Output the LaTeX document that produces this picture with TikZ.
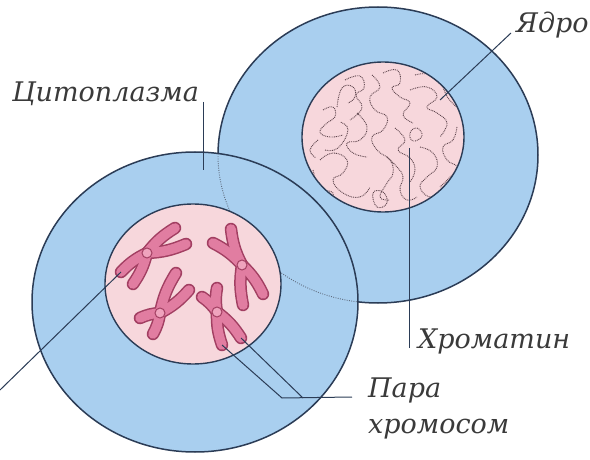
\documentclass[tikz,border=0pt]{standalone}
\usepackage{fontspec}
\setmainfont{DejaVu Serif}
\usetikzlibrary{positioning, calc}
\definecolor{CytoBlue}    {HTML}{A9CFEF}
\definecolor{NucPink}     {HTML}{F7D7DC}
\definecolor{CellEdge}    {HTML}{2B3C56}
\definecolor{ChromoFill}  {HTML}{E17DA1}
\definecolor{ChromoEdge}  {HTML}{A23F62}
\definecolor{CentroFill}  {HTML}{EFA3BD}
\definecolor{ChromatinDot}{HTML}{5E454D}
\definecolor{LabelGray}   {HTML}{3A3A3A}
\tikzset{
  % cell parts
  cell/.style   ={fill=CytoBlue, draw=CellEdge, line width=1.5pt},
  nucleus/.style={fill=NucPink,  draw=CellEdge, line width=1.4pt},
  hidden/.style ={draw=CellEdge!75, line width=0.9pt, dash pattern=on 0.9pt off 1.4pt},
  chromatin/.style={draw=ChromatinDot, line width=0.9pt, dash pattern=on 0.9pt off 0.9pt},
  % chromosome arms: dark rod first, light rod on top
  armedge/.style={draw=ChromoEdge, line width=12.5pt, line cap=round},
  armfill/.style={draw=ChromoFill, line width=9.5pt,  line cap=round},
  centro/.style ={fill=CentroFill, draw=ChromoEdge, line width=1pt},
  % labels and their lines
  leader/.style ={draw=CellEdge, line width=1pt},
  lbl/.style    ={font=\fontsize{27}{36}\selectfont\itshape, text=LabelGray,
                  inner sep=0pt, anchor=base west},
}

\begin{document}
\begin{tikzpicture}[x=1pt, y=-1pt]

\fill[white] (0,0) rectangle (590,460);
\useasboundingbox (0,0) rectangle (590,460);

% cell with resting nucleus (back)
\path[cell]    (378,155) ellipse [x radius=160pt, y radius=148pt];
\path[nucleus] (383,137) ellipse [x radius=81pt,  y radius=75pt];

% chromatin threads
\begin{scope}
  \clip (383,137) ellipse [x radius=80pt, y radius=74pt];
  \draw[chromatin] plot[smooth, tension=0.8] coordinates {(337,107) (342,88) (353,87) (355,97) (348,103)};
  \draw[chromatin] plot[smooth, tension=0.8] coordinates {(323,110) (333,107) (335,117) (327,123) (320,132) (330,137) (343,135)};
  \draw[chromatin] plot[smooth, tension=0.8] coordinates {(372,75) (380,87) (370,97) (375,110) (387,117) (383,130) (372,137) (377,150) (390,160) (393,173) (387,183) (380,197) (390,200)};
  \draw[chromatin] plot[smooth, tension=0.8] coordinates {(383,73) (397,70) (400,83) (392,88) (400,97) (410,103) (403,115) (413,123)};
  \draw[chromatin] plot[smooth, tension=0.8] coordinates {(410,90) (427,87) (437,97) (427,107) (437,113) (447,123) (440,137)};
  \draw[chromatin] plot[smooth, tension=0.8] coordinates {(457,127) (453,140) (443,147) (447,160) (457,167) (450,177) (440,187)};
  \draw[chromatin] plot[smooth, tension=0.8] coordinates {(320,160) (333,153) (347,160) (343,173) (333,180) (343,193) (360,197) (370,187)};
  \draw[chromatin] plot[smooth, tension=0.8] coordinates {(357,113) (367,127) (360,140) (347,143) (353,153) (367,157)};
  \draw[chromatin] plot[smooth, tension=0.8] coordinates {(387,157) (397,167) (403,177) (400,190) (407,200) (417,197)};
  \draw[chromatin] plot[smooth, tension=0.8] coordinates {(420,147) (433,153) (437,167) (427,177) (420,187) (430,197) (440,190)};
  \draw[chromatin] plot[smooth, tension=0.8] coordinates {(313,170) (320,187) (333,193) (330,203)};
  \draw[chromatin] plot[smooth cycle, tension=0.8] coordinates {(410,133) (417,128) (422,136) (413,141)};
  \draw[chromatin] plot[smooth cycle, tension=0.8] coordinates {(373,193) (383,192) (387,203) (377,207)};
  \draw[chromatin] plot[smooth, tension=0.8] coordinates {(318,140) (310,150) (316,158)};
  \draw[chromatin] plot[smooth, tension=0.8] coordinates {(345,80) (360,76) (364,88) (356,95) (362,108) (350,120)};
  \draw[chromatin] plot[smooth, tension=0.8] coordinates {(415,75) (430,74) (440,82) (448,98) (458,108)};
  \draw[chromatin] plot[smooth, tension=0.8] coordinates {(395,128) (405,140) (398,150) (410,158) (415,170) (410,182)};
  \draw[chromatin] plot[smooth, tension=0.8] coordinates {(325,150) (338,148) (348,130) (340,122)};
\end{scope}

% dividing cell (front)
\path[cell] (195,302) ellipse [x radius=163pt, y radius=150pt];
\begin{scope}
  \clip (195,302) ellipse [x radius=162pt, y radius=149pt];
  \path[hidden] (378,155) ellipse [x radius=160pt, y radius=148pt];
\end{scope}
\path[nucleus] (193,284) ellipse [x radius=88pt, y radius=80pt];

% chromosomes: centromere c<n>, arm tips c<n>a..d
\coordinate (c1)  at (147,253);
\coordinate (c1a) at (175,228);
\coordinate (c1b) at (186,244);
\coordinate (c1c) at (121,272);
\coordinate (c1d) at (133,284);
\coordinate (c2)  at (242,265);
\coordinate (c2a) at (231,229);
\coordinate (c2b) at (213,243);
\coordinate (c2c) at (243,305);
\coordinate (c2d) at (263,294);
\coordinate (c3)  at (160,313);
\coordinate (c3a) at (176,273);
\coordinate (c3b) at (189,290);
\coordinate (c3c) at (140,318);
\coordinate (c3d) at (153,334);
\coordinate (c4)  at (217,312);
\coordinate (c4a) at (217,288);
\coordinate (c4b) at (202,297);
\coordinate (c4c) at (222,345);
\coordinate (c4d) at (241,338);

\foreach \n in {1,...,4}
  \foreach \arm/\ang in {a/10,b/-10,c/-10,d/10}
    \draw[armedge] (c\n) to[bend left=\ang] (c\n\arm);
\foreach \n in {1,...,4}
  \foreach \arm/\ang in {a/10,b/-10,c/-10,d/10}
    \draw[armfill] (c\n) to[bend left=\ang] (c\n\arm);
\foreach \n in {1,...,4}
  \draw[centro] (c\n) circle [radius=5pt];

% labels
\node[lbl] (cyto)  at (12,102)  {Цитоплазма};
\node[lbl] (nucl)  at (516,33)  {Ядро};
\node[lbl] (chrom) at (418,348) {Хроматин};
\node[lbl] (para)  at (368,397) {Пара};
\node[lbl] (pairs) at (368,433) {хромосом};

% leader lines
\coordinate (cytoPt)  at (203,170);
\coordinate (nuclPt)  at (440,100);
\coordinate (chromPt) at (409,148);
\coordinate (kneeA)   at (282,398);
\coordinate (kneeB)   at (303,398);
\coordinate (edgePt)  at (0,390);

\draw[leader] (cyto.base -| cytoPt) -- (cytoPt);
\draw[leader] ([xshift=-5pt]nucl.base west) -- (nuclPt);
\draw[leader] (chrom.base -| chromPt) -- (chromPt);
\draw[leader] (c4c) -- (kneeA) -- ([xshift=-16pt]para.base west);
\draw[leader] (c4d) -- (kneeB);
\draw[leader] (edgePt) -- (c1c);

\end{tikzpicture}
\end{document}
